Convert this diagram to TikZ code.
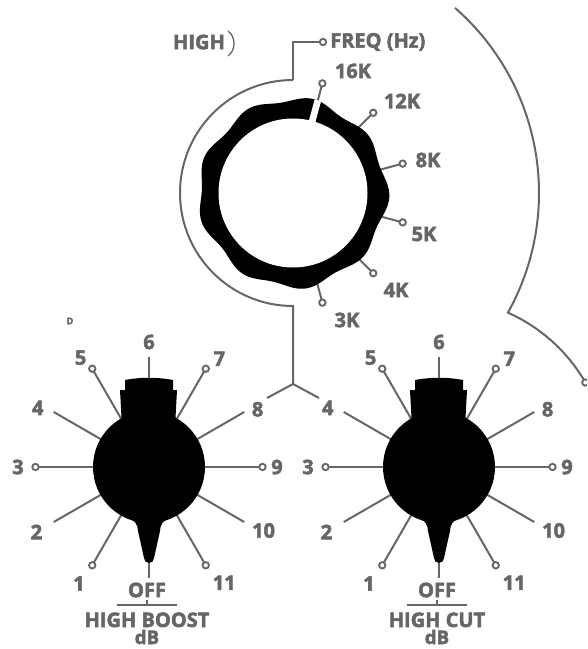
\documentclass[tikz,border=0pt]{standalone}
\usepackage{fontspec}
\setmainfont{Open Sans}[BoldFeatures={FakeBold=2.6}]
\usetikzlibrary{positioning,calc}

\definecolor{panelgray}{HTML}{666666}

\begin{document}
\begin{tikzpicture}[
    x=0.75pt, y=0.75pt,
    lbl/.style={text=panelgray, font=\fontsize{15}{15}\selectfont\bfseries, inner sep=0pt},
    unit/.style={lbl, font=\fontsize{14}{14}\selectfont\bfseries},
    wire/.style={draw=panelgray, line width=1.5pt},
    pin/.style={draw=panelgray, fill=white, line width=1.4pt},
    knob/.pic={
        % tick lines, plain and with pins
        \foreach \a in {-150,150,90,30,-30} \draw[wire] (\a:50) -- (\a:110);
        \foreach \a in {-120,180,120,60,0,-60} {
            \draw[wire] (\a:50) -- (\a:110);
            \draw[pin] (\a:113.5) circle (3.2);
        }
        \foreach \t/\la/\lr in {1/-121/136, 2/-150/130, 3/180/131, 4/152/126, 5/122/129, 6/90/125, 7/57/129, 8/28/123, 9/0/128, 10/-29/131, 11/-57/138}
            \node[lbl] (-n\t) at (\la:\lr) {\t};
        % knob body
        \fill (0,0) circle (56);
        \fill (-27,40) -- (-29,77) -- (-24,77) -- (-24,87) .. controls (-8,90) and (8,90) .. (24,87) -- (24,77) -- (28,77) -- (26,40) -- cycle;
        \fill (-24,-48) .. controls (-12,-56) .. (-11,-64) -- (-5,-91) arc[start angle=180, end angle=360, radius=5] -- (11,-64) .. controls (12,-56) .. (24,-48) -- cycle;
        % off mark
        \draw[wire] (0,-96) -- (0,-111);
        \node[lbl] (-off) at (-2,-123) {OFF};
        \draw[wire] (-32,-138) -- (28,-138);
        \draw[wire] (-2,-138) -- (-2,-133);
    }
]

\useasboundingbox (0,0) rectangle (587,-649);
\clip (0,0) rectangle (587,-649);

\coordinate (freq) at (293,-193);
\coordinate (split) at (293,-384);
\coordinate (freqpin) at (323,-42);

% rails round the frequency knob
\draw[wire] (freq) ++(90:113) arc[start angle=90, end angle=270, radius=113] -- (split);
\draw[wire] (split) -- (267,-398);
\draw[wire] (split) -- (319,-398);
\draw[wire] (freq) ++(0,113) -- (293,-42) -- ($(freqpin)+(-3.2,0)$);
\draw[pin] (freqpin) circle (3.2);
\draw[wire] (freq) ++(48.8:246) arc[start angle=48.8, end angle=-29.1, radius=246]
    arc[start angle=65.95, end angle=31.2, radius=169];
\draw[pin] (439,-467) ++(30:169) circle (3.2);

% frequency knob
\foreach \a in {75,45,15,-15,-45,-75} {
    \draw[wire] (freq) ++(\a:85) -- ++(\a:25);
    \draw[pin] (freq) ++(\a:113.5) circle (3.2);
}
\fill[shift={(freq)}] plot[domain=0:359, samples=360] (\x:{93+2.6*cos(9*\x+20)+0.8*cos(4*\x)}) -- cycle;
\fill[white] (freq) circle (74.5);
\draw[white, line width=5pt] (freq) ++(75:72) -- ++(75:24);

\node[lbl] (f16k) at (353,-71) {16K};
\node[lbl] (f12k) at (402,-101) {12K};
\node[lbl] (f8k) at (428,-160) {8K};
\node[lbl] (f5k) at (424,-234) {5K};
\node[lbl] (f4k) at (396,-290) {4K};
\node[lbl] (f3k) at (347,-320) {3K};

\node[lbl, anchor=west] (freqname) at (330,-42) {FREQ (Hz)};
\node[lbl] (band) at (199,-42) {HIGH};
\draw[panelgray, line width=1pt] (228,-31) .. controls (236,-37) and (236,-50) .. (228,-56);
\node[text=panelgray, font=\fontsize{7}{7}\selectfont\bfseries] (frag) at (70,-321) {D};

% boost and cut knobs
\pic (boost) at (149,-467) {knob};
\pic (cut) at (439,-467) {knob};

\node[lbl, anchor=base] (boostname) at (147,-627) {HIGH BOOST};
\node[unit, anchor=base] (boostunit) at (147,-644) {dB};
\node[lbl, anchor=base] (cutname) at (437,-627) {HIGH CUT};
\node[unit, anchor=base] (cutunit) at (437,-644) {dB};

\end{tikzpicture}
\end{document}
